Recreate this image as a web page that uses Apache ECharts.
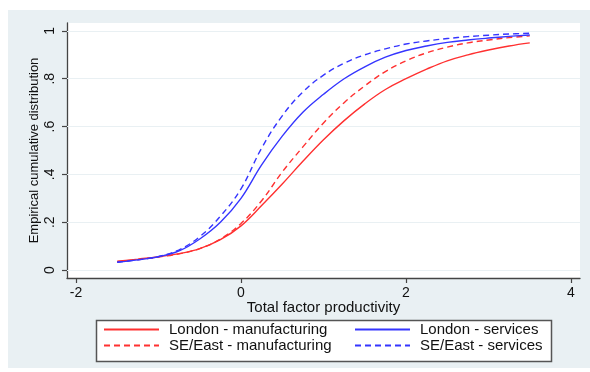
<!DOCTYPE html>
<html>
<head>
<meta charset="utf-8">
<script src="https://cdn.jsdelivr.net/npm/echarts@6/dist/echarts.min.js"></script>
<style>html,body{margin:0;padding:0;background:#fff}#c{width:590px;height:372px}</style>
</head>
<body>
<div id="c"></div>
<script>
var tfp = [-1.5,-1.25,-1,-0.75,-0.5,-0.25,0,0.25,0.5,0.75,1,1.25,1.5,1.75,2,2.25,2.5,2.75,3,3.25,3.5];
var londonManufacturing = [0.037,0.046,0.056,0.069,0.09,0.127,0.185,0.27,0.36,0.455,0.545,0.625,0.695,0.755,0.80,0.84,0.875,0.90,0.92,0.937,0.95];
var seEastManufacturing = [0.035,0.044,0.055,0.068,0.09,0.13,0.195,0.29,0.41,0.515,0.615,0.70,0.77,0.83,0.875,0.908,0.932,0.95,0.962,0.972,0.979];
var londonServices = [0.033,0.043,0.056,0.08,0.13,0.20,0.30,0.44,0.56,0.66,0.735,0.80,0.85,0.89,0.918,0.937,0.952,0.962,0.97,0.977,0.983];
var seEastServices = [0.033,0.043,0.057,0.085,0.14,0.225,0.34,0.51,0.645,0.745,0.815,0.865,0.90,0.925,0.945,0.958,0.968,0.976,0.982,0.987,0.99];
var seriesNames = ['London - manufacturing','SE/East - manufacturing','London - services','SE/East - services'];
var xTicks = [-2,0,2,4];
var yTicks = [0,0.2,0.4,0.6,0.8,1];
var xTitle = 'Total factor productivity';
var yTitle = 'Empirical cumulative distribution';

function pairs(ys){ return tfp.map(function(x,i){ return [x, ys[i]]; }); }
var RED = '#ff3030', BLUE = '#3535ff';
var FONT = '"Liberation Sans", Arial, sans-serif';

function mk(name, ys, color, dashed, withGrid){
  var s = {
    name: name, type: 'line', data: pairs(ys), symbol: 'none',
    smooth: 0.4,
    lineStyle: { color: color, width: 1.4, type: dashed ? [6,4] : 'solid' },
    itemStyle: { color: color }, z: 3
  };
  if (withGrid) {
    s.markLine = {
      silent: true, symbol: 'none', label: { show: false },
      lineStyle: { color: '#e9f0f3', width: 1.2, type: 'solid' },
      data: yTicks.map(function(v){ return { yAxis: v }; }), z: 1
    };
  }
  return s;
}

var legendBase = {
  orient: 'vertical', top: 322, padding: 0,
  itemWidth: 55, itemHeight: 14, itemGap: 1,
  itemStyle: { opacity: 0 },
  textStyle: { fontFamily: FONT, fontSize: 15, color: '#111', padding: [0,0,0,5] }
};

var chart = echarts.init(document.getElementById('c'), null, { renderer: 'canvas' });
chart.setOption({
  animation: false,
  backgroundColor: '#ffffff',
  graphic: [
    { type: 'rect', z: -10, shape: { x: 8, y: 10, width: 582, height: 358 }, style: { fill: '#e9f0f3' } },
    { type: 'rect', z: -5, shape: { x: 96.5, y: 320.5, width: 455, height: 41 }, style: { fill: '#ffffff', stroke: '#555', lineWidth: 1.5 } }
  ],
  grid: { left: 67, right: 10, top: 23, bottom: 94, show: true, backgroundColor: '#ffffff', borderWidth: 0 },
  xAxis: {
    type: 'value', min: -2.109, max: 4.109,
    name: xTitle, nameLocation: 'middle', nameGap: 22, nameMoveOverlap: false,
    nameTextStyle: { fontFamily: FONT, fontSize: 15, color: '#111' },
    axisLine: { show: true, onZero: false, lineStyle: { color: '#444', width: 1.3 } },
    axisTick: { show: true, length: 5, customValues: xTicks, lineStyle: { color: '#444', width: 1.2 } },
    axisLabel: { customValues: xTicks, margin: 8, fontFamily: FONT, fontSize: 14, color: '#111',
      formatter: function(v){ return String(v); } },
    splitLine: { show: false }
  },
  yAxis: {
    type: 'value', min: -0.033, max: 1.033,
    name: yTitle, nameLocation: 'middle', nameGap: 26, nameRotate: 90, nameMoveOverlap: false,
    nameTextStyle: { fontFamily: FONT, fontSize: 13, color: '#111' },
    axisLine: { show: true, onZero: false, lineStyle: { color: '#444', width: 1.3 } },
    axisTick: { show: true, length: 5, customValues: yTicks, lineStyle: { color: '#444', width: 1.2 } },
    axisLabel: { customValues: yTicks, rotate: 90, margin: 10, fontFamily: FONT, fontSize: 14, color: '#111',
      formatter: function(v){ if (v === 0) return '0'; if (v === 1) return '1'; return String(+v.toFixed(1)).replace(/^0\./, '.'); } },
    splitLine: { show: false }
  },
  legend: [
    Object.assign({}, legendBase, { data: [seriesNames[0], seriesNames[1]], left: 103 }),
    Object.assign({}, legendBase, { data: [seriesNames[2], seriesNames[3]], left: 354 })
  ],
  series: [
    mk(seriesNames[0], londonManufacturing, RED, false, true),
    mk(seriesNames[1], seEastManufacturing, RED, true, false),
    mk(seriesNames[2], londonServices, BLUE, false, false),
    mk(seriesNames[3], seEastServices, BLUE, true, false)
  ]
});
</script>
</body>
</html>
